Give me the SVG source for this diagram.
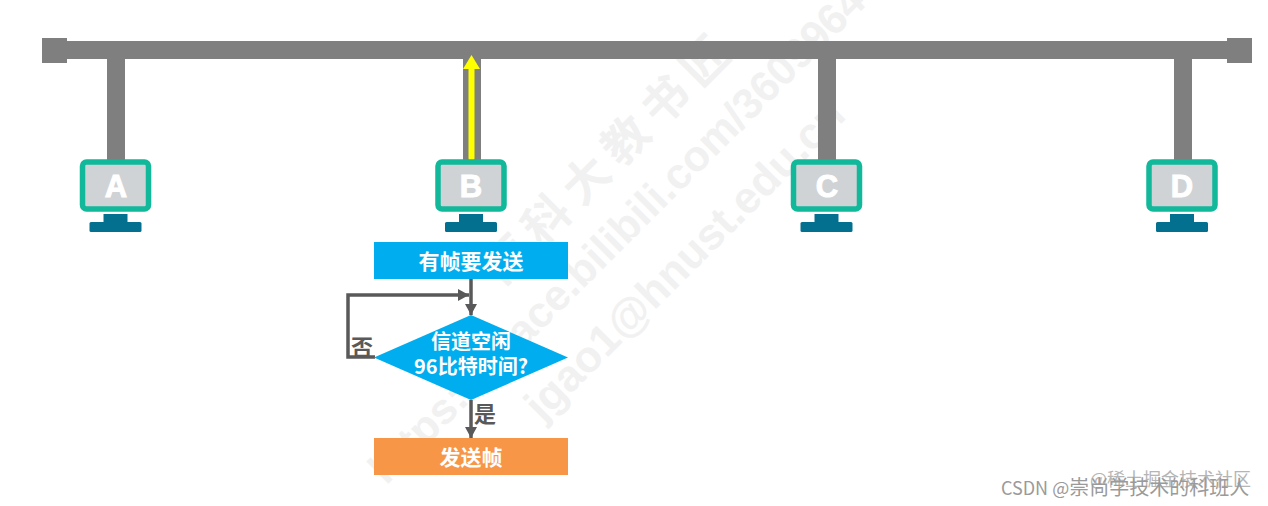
<svg xmlns="http://www.w3.org/2000/svg" width="1268" height="506" viewBox="0 0 1268 506">
<style>
text{font-family:"Liberation Sans","Noto Sans CJK SC",sans-serif}
.cn{font-family:"Noto Sans CJK SC","Liberation Sans",sans-serif}
.bus{fill:#7f7f7f}
.scr{fill:#d0d3d6;stroke:#12b89a;stroke-width:5.5}
.st{fill:#04708f}
.let{fill:#fff;stroke:#fff;stroke-width:1;font-size:31px;font-weight:700;text-anchor:middle;font-family:"Liberation Sans",sans-serif}
.lab{fill:#fff;font-size:21px;font-weight:700;text-anchor:middle}
.lab2{fill:#fff;font-size:20px;font-weight:700;text-anchor:middle}
.dec{fill:#595959;font-size:22px;font-weight:700;text-anchor:middle}
.wm{fill:#f1f1f1;font-weight:700;text-anchor:middle}
.flow{fill:none;stroke:#595959;stroke-width:3.5}
.foot{font-size:18px;fill:#9a9a9a}
</style>
<defs>
<marker id="ah" markerUnits="userSpaceOnUse" markerWidth="12" markerHeight="14" refX="11" refY="6" orient="auto"><path d="M0 0L11 6L0 12Z" fill="#595959"/></marker>
<g id="mon"><rect x="-33" y="-24" width="66" height="47" rx="4" class="scr"/><rect x="-12" y="28" width="24" height="9" class="st"/><rect x="-26" y="36" width="52" height="10" rx="1.500" class="st"/></g>
</defs>
<g id="watermark">
<text class="wm cn" font-size="46" letter-spacing="10" transform="translate(621 168) rotate(-45)">南科大教书匠</text>
<text class="wm" font-size="43" transform="translate(644 228) rotate(-45)">https://space.bilibili.com/360996402</text>
<text class="wm" font-size="44" transform="translate(695 270) rotate(-45)">jgao1@hnust.edu.cn</text>
</g>
<g id="bus"><rect class="bus" x="66" y="41" width="1162" height="18"/><rect class="bus" x="42" y="38" width="25" height="25"/><rect class="bus" x="1227" y="38" width="25" height="25"/></g>
<g id="connectors">
<rect class="bus" x="107" y="59" width="18" height="103"/>
<rect class="bus" x="463" y="59" width="18" height="103"/>
<rect class="bus" x="818" y="59" width="18" height="103"/>
<rect class="bus" x="1174" y="59" width="18" height="103"/>
<path d="M471.500 158V68" stroke="#ff0" stroke-width="6" stroke-linecap="round" fill="none"/>
<path d="M471.500 55L480 69H463Z" fill="#ff0"/>
<path class="flow" d="M471 279V315" marker-end="url(#ah)"/>
<path class="flow" d="M375 357H348V295H469" marker-end="url(#ah)"/>
<path class="flow" d="M471 400V438" marker-end="url(#ah)"/>
</g>
<g id="node-a"><use href="#mon" x="115.500" y="186"/><text class="let" x="116" y="197">A</text></g>
<g id="node-b"><use href="#mon" x="471" y="186"/><text class="let" x="471" y="197">B</text></g>
<g id="node-c"><use href="#mon" x="826.500" y="186"/><text class="let" x="827" y="197">C</text></g>
<g id="node-d"><use href="#mon" x="1182" y="186"/><text class="let" x="1182" y="197">D</text></g>
<g id="start"><rect x="374" y="242" width="194" height="37" fill="#00aeef"/><text class="lab cn" x="471" y="269">有帧要发送</text></g>
<g id="decision"><path d="M374 357.500L471 315L568 357.500L471 400Z" fill="#00aeef"/><text class="lab2 cn" x="471" y="349">信道空闲</text><text class="lab2 cn" x="471" y="374">96比特时间?</text></g>
<g id="send"><rect x="374" y="438" width="194" height="37" fill="#f79646"/><text class="lab cn" x="471" y="465">发送帧</text></g>
<text class="dec cn" x="362" y="355">否</text>
<text class="dec cn" x="485" y="422">是</text>
<text class="cn" x="1090" y="486" font-size="18" fill="#b5b5b5">@稀土掘金技术社区</text>
<text class="foot cn" x="1001" y="495">CSDN @<tspan font-size="20">崇尚学技术的科班人</tspan></text>
</svg>
